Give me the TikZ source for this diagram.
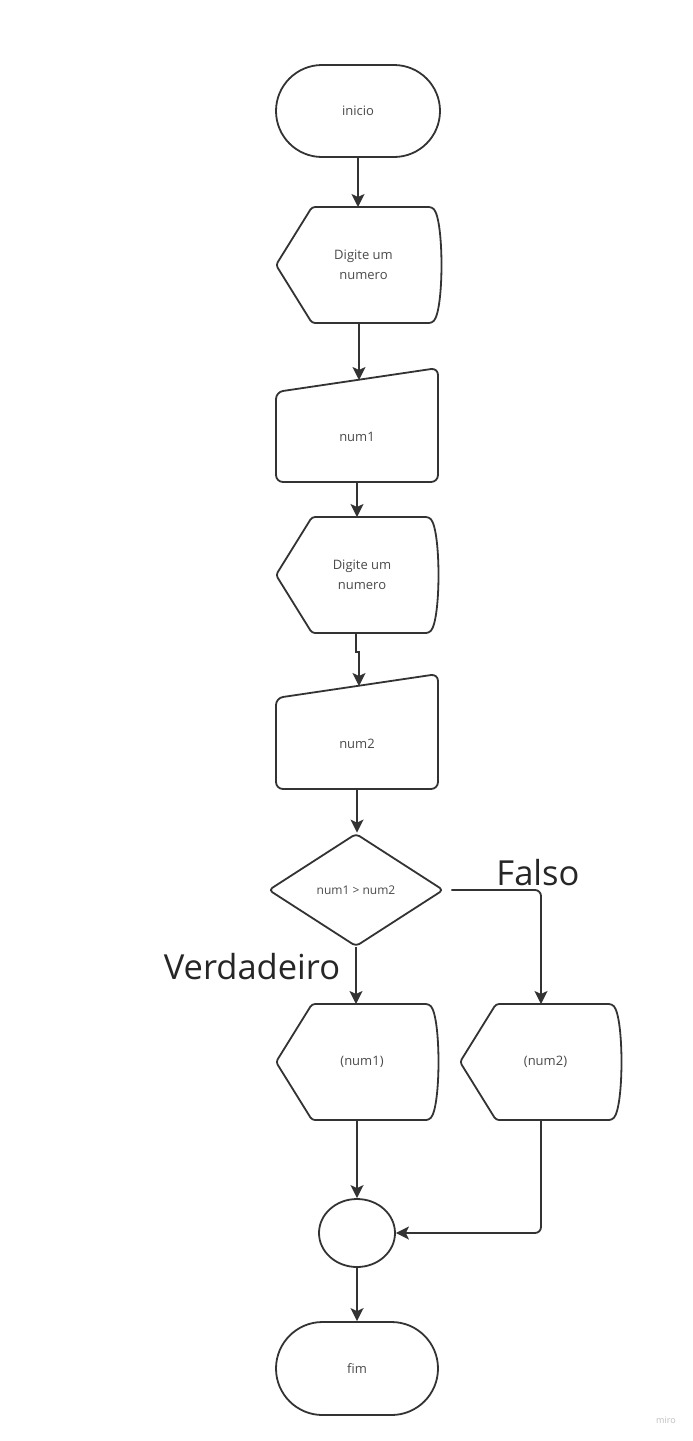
\documentclass[tikz,border=0pt]{standalone}
\usepackage{fontspec}
\setmainfont{Open Sans}
\usetikzlibrary{arrows.meta,shapes.geometric,shapes.misc}
\definecolor{ln}{HTML}{333333}
\definecolor{tx}{HTML}{4A4A4A}
\tikzset{
 shp/.style={draw=ln, line width=1.8pt, line join=round},
 conn/.style={draw=ln, line width=1.8pt, -{Stealth[length=13pt,width=13pt,inset=3pt]}},
 lbl/.style={text=tx, font=\fontsize{13}{20}\selectfont, align=center, inner sep=0pt},
 big/.style={text=black!85, font=\fontsize{34.5}{40}\selectfont, inner sep=0pt},
 term/.style={shp, lbl, rounded rectangle, minimum width=164pt, minimum height=92pt}
}
\newcommand\dispshape[6]{%
 \draw[shp, rounded corners=3pt] (#2,{(#4+#5)/2}) -- ({#2+36},#4) -- ({#3-9},#4) .. controls ({#3+3},{#4+14}) and ({#3+3},{#5-14}) .. ({#3-9},#5) -- ({#2+36},#5) -- cycle;
 \node[lbl] (#1) at ({(#2+#3)/2+5},{(#4+#5)/2}) {#6};
 \coordinate (#1-top) at ({round((#2+#3)/2)},#4);
 \coordinate (#1-bot) at ({round((#2+#3)/2)},#5);
}
\newcommand\maninput[7]{%
 \draw[shp, rounded corners=7pt] (#2,#4) -- (#3,#5) -- (#3,#6) -- (#2,#6) -- cycle;
 \node[lbl] (#1) at ({(#2+#3)/2},{(#4+#6)/2}) {#7};
 \coordinate (#1-top) at ({(#2+#3)/2},{(#4+#5)/2});
 \coordinate (#1-bot) at ({(#2+#3)/2},#6);
}
\begin{document}
\begin{tikzpicture}[x=1pt,y=-1pt]
\fill[white] (0,0) rectangle (693,1441);
\useasboundingbox (0,0) rectangle (693,1441);

\node[term] (ini) at (358,111) {inicio};
\dispshape{d1}{276}{441}{207}{323}{Digite um\\numero}
\maninput{m1}{276}{438}{392}{368}{482}{num1}
\dispshape{d2}{276}{438}{517}{633}{Digite um\\numero}
\maninput{m2}{276}{438}{698}{674}{789}{num2}
\node[shp, lbl, diamond, font=\fontsize{12}{14}\selectfont, minimum width=175pt, minimum height=113pt, rounded corners=4pt] (dec) at (356,890) {num1 > num2};
\dispshape{d3}{276}{438}{1004}{1120}{(num1)}
\dispshape{d4}{460}{621}{1004}{1120}{(num2)}
\node[shp, ellipse, minimum width=76pt, minimum height=68pt] (join) at (357,1233) {};
\node[term, minimum width=162pt, minimum height=93pt] (fim) at (357,1368.5) {fim};

\draw[conn] (ini.south) -- (ini.south |- d1-top);
\draw[conn] (d1-bot) -- (d1-bot |- m1-top);
\draw[conn] (m1-bot) -- (m1-bot |- d2-top);
\draw[conn] ([xshift=-1pt]d2-bot) -- ++(0,19) -| ([xshift=2pt]m2-top);
\draw[conn] (m2-bot) -- (m2-bot |- dec.north);
\draw[conn] (dec.south) -- (dec.south |- d3-top);
\draw[conn, rounded corners=6pt] ([xshift=7pt]dec.east) -| (d4-top);
\draw[conn] (d3-bot) -- (d3-bot |- join.north);
\draw[conn, rounded corners=6pt] (d4-bot) |- (join.east);
\draw[conn] (join.south) -- (join.south |- fim.north);

\node[big] (falso) at (538,873) {Falso};
\node[big] (verd) at (252,967) {Verdadeiro};
\node[text=black!25, font=\fontsize{9}{10}\selectfont, inner sep=0pt] (miro) at (666,1420) {miro};
\end{tikzpicture}
\end{document}
